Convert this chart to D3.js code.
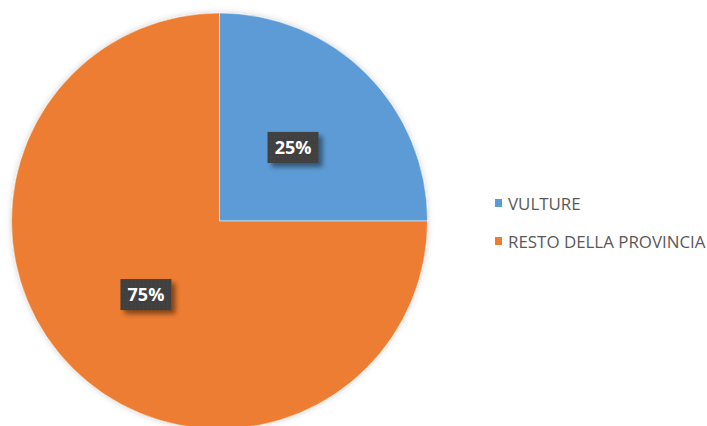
<!DOCTYPE html>
<html>
<head>
<meta charset="utf-8">
<script src="https://cdn.jsdelivr.net/npm/d3@7"></script>
<style>
  html, body { margin: 0; padding: 0; background: #fff; }
  svg { display: block; }
</style>
</head>
<body>
<div id="viz"></div>
<script>
var categories = ["VULTURE", "RESTO DELLA PROVINCIA"];
var values = [25, 75];
var labels = ["25%", "75%"];
var colors = ["#5B9BD5", "#ED7D31"];

var width = 707, height = 426;
var cx = 219.5, cy = 221, radius = 208;

var svg = d3.select("#viz").append("svg")
    .attr("width", width)
    .attr("height", height);

var defs = svg.append("defs");

// soft glow round the pie
var glow = defs.append("filter").attr("id", "pieShadow")
    .attr("x", "-10%").attr("y", "-10%").attr("width", "120%").attr("height", "120%");
glow.append("feGaussianBlur").attr("in", "SourceAlpha").attr("stdDeviation", 3).attr("result", "b");
glow.append("feFlood").attr("flood-color", "#000").attr("flood-opacity", 0.18);
glow.append("feComposite").attr("in2", "b").attr("operator", "in").attr("result", "s");
var gm = glow.append("feMerge");
gm.append("feMergeNode").attr("in", "s");
gm.append("feMergeNode").attr("in", "SourceGraphic");

// label box shadow
var lbl = defs.append("filter").attr("id", "labelShadow")
    .attr("x", "-30%").attr("y", "-30%").attr("width", "170%").attr("height", "180%");
lbl.append("feGaussianBlur").attr("in", "SourceAlpha").attr("stdDeviation", 2.5).attr("result", "b");
lbl.append("feOffset").attr("in", "b").attr("dx", 4).attr("dy", 4).attr("result", "o");
lbl.append("feFlood").attr("flood-color", "#000").attr("flood-opacity", 0.45);
lbl.append("feComposite").attr("in2", "o").attr("operator", "in").attr("result", "s");
var lm = lbl.append("feMerge");
lm.append("feMergeNode").attr("in", "s");
lm.append("feMergeNode").attr("in", "SourceGraphic");

// dotted texture for label boxes
var pat = defs.append("pattern").attr("id", "dots")
    .attr("width", 4).attr("height", 4).attr("patternUnits", "userSpaceOnUse");
pat.append("rect").attr("width", 4).attr("height", 4).attr("fill", "#3f3f3f");
pat.append("rect").attr("x", 1).attr("y", 1).attr("width", 1).attr("height", 1).attr("fill", "#4d4d4d");

var pie = d3.pie().sort(null).value(function(d) { return d; });
var arcs = pie(values);
var arc = d3.arc().innerRadius(0).outerRadius(radius);
var labelArc = d3.arc().innerRadius(radius * 0.5).outerRadius(radius * 0.5);

var g = svg.append("g").attr("transform", "translate(" + cx + "," + cy + ")");

g.append("g").attr("filter", "url(#pieShadow)")
  .selectAll("path")
  .data(arcs)
  .enter().append("path")
    .attr("d", arc)
    .attr("fill", function(d, i) { return colors[i]; })
    .attr("stroke", "#fff")
    .attr("stroke-width", 0.5);

var lab = g.selectAll(".lab")
  .data(arcs)
  .enter().append("g")
    .attr("class", "lab")
    .attr("transform", function(d) {
        var c = labelArc.centroid(d);
        return "translate(" + c[0] + "," + c[1] + ")";
    });

lab.append("rect")
    .attr("x", -25.5).attr("y", -15.5)
    .attr("width", 51).attr("height", 31)
    .attr("fill", "url(#dots)")
    .attr("filter", "url(#labelShadow)");

lab.append("text")
    .attr("text-anchor", "middle")
    .attr("dy", "0.36em")
    .attr("font-family", "'Open Sans', sans-serif")
    .attr("font-weight", "bold")
    .attr("font-size", "18px")
    .attr("fill", "#fff")
    .text(function(d, i) { return labels[i]; });

// legend
var legend = svg.append("g").attr("transform", "translate(495,199)");
var item = legend.selectAll(".item")
  .data(categories)
  .enter().append("g")
    .attr("class", "item")
    .attr("transform", function(d, i) { return "translate(0," + (i * 38) + ")"; });

item.append("rect")
    .attr("width", 7).attr("height", 8)
    .attr("fill", function(d, i) { return colors[i]; });

item.append("text")
    .attr("x", 13).attr("y", 10.5)
    .attr("font-family", "'Open Sans', sans-serif")
    .attr("font-size", "16.9px")
    .attr("fill", "#595959")
    .text(function(d) { return d; });
</script>
</body>
</html>
